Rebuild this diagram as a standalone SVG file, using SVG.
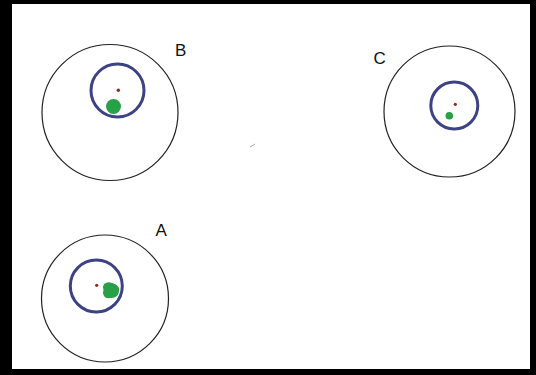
<svg xmlns="http://www.w3.org/2000/svg" width="536" height="375" viewBox="0 0 536 375">
<style>
.outer{fill:none;stroke:#222;stroke-width:1.2}
.orbit{fill:none;stroke:#3c4283;stroke-width:3}
.core{fill:#8a2e22}
.green{fill:#27a048}
.lbl{font-family:"Liberation Sans",Arial,sans-serif;font-size:17px;fill:#111}
</style>
<rect x="0" y="0" width="536" height="375" fill="#000"/>
<rect x="12" y="4" width="518" height="365" fill="#fff"/>
<g id="B">
<circle class="outer" cx="110" cy="112.5" r="68"/>
<circle class="orbit" cx="117.5" cy="90.5" r="26.5"/>
<circle class="core" cx="118.3" cy="90.3" r="1.7"/>
<circle class="green" cx="113.5" cy="106.5" r="7.5"/>
<text class="lbl" x="175" y="56">B</text>
</g>
<g id="C">
<circle class="outer" cx="449.5" cy="111.5" r="65.5"/>
<circle class="orbit" cx="454.3" cy="105.5" r="23.5"/>
<circle class="core" cx="455.3" cy="104.3" r="1.6"/>
<circle class="green" cx="449.3" cy="115.7" r="3.8"/>
<text class="lbl" x="373.5" y="63.5">C</text>
</g>
<g id="A">
<circle class="outer" cx="105" cy="298.5" r="63.5"/>
<circle class="orbit" cx="96.3" cy="286" r="26"/>
<circle class="core" cx="96.7" cy="285.3" r="1.6"/>
<path class="green" d="M104,284 Q108,281 112,283 Q117,284 119,288 Q119.5,293 117,296 Q114,298.5 110,298 Q106,299 104,296 Q102,293 103.5,290 Q102,287 104,284 Z"/>
<text class="lbl" x="155.5" y="236">A</text>
</g>
<g id="connectors">
<path d="M250,147 L255,144" stroke="#aaa" stroke-width="1" fill="none"/>
</g>
</svg>
